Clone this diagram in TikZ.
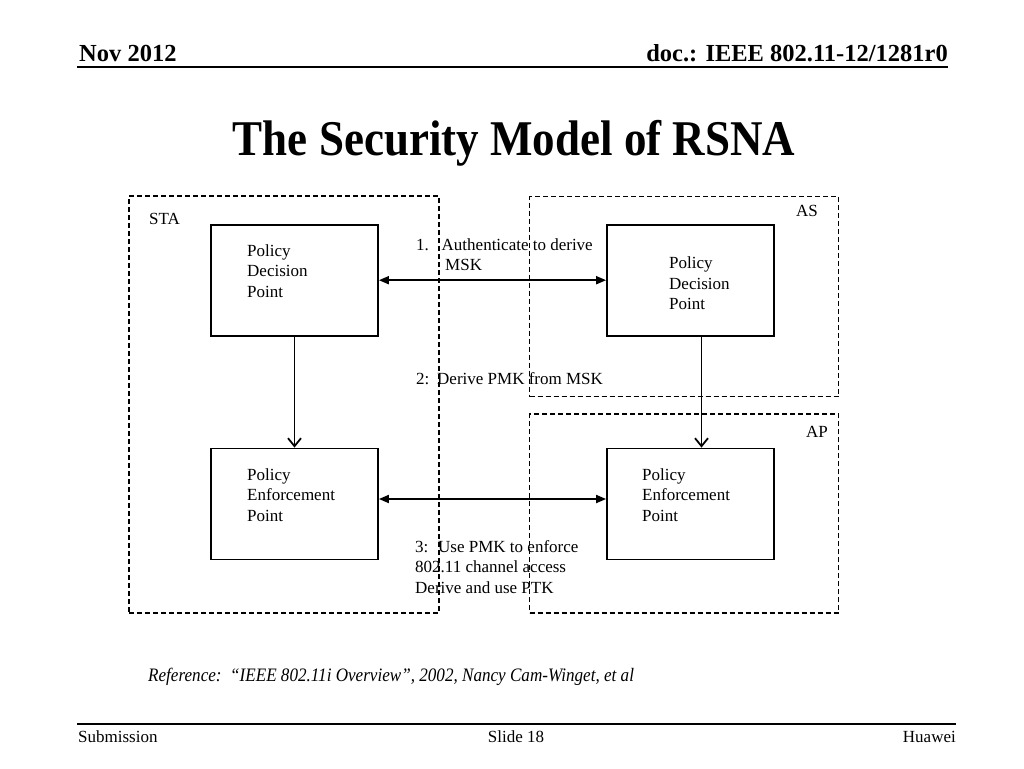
\documentclass[tikz,border=0pt]{standalone}
\usepackage{fontspec}
\setmainfont{Liberation Serif}
\newfontfamily\titlefont[FakeStretch=0.9]{Liberation Serif}
\usetikzlibrary{arrows.meta}

\begin{document}
\begin{tikzpicture}[x=1pt, y=-1pt]
  \tikzstyle{pbox} = [rectangle, draw, minimum width = 167pt, minimum height = 111pt, line width = 1.8pt, inner sep = 0]
  \tikzstyle{zone} = [rectangle, draw, dash pattern = on 5pt off 3pt, line width = 1.8pt, inner sep = 0]
  \tikzstyle{txt} = [font = \fontsize{17}{20.5}\selectfont, inner sep = 0, align = left, anchor = north west]
  \tikzstyle{tag} = [font = \fontsize{17}{20.5}\selectfont, inner sep = 0]
  \tikzstyle{exchange} = [{Triangle[length=10pt, width=8pt]}-{Triangle[length=10pt, width=8pt]}, line width = 1.8pt]
  \tikzstyle{derive} = [-{Straight Barb[length=8pt, width=13pt]}, line width = 1.8pt]

  \useasboundingbox (0,0) rectangle (1024,768);
  \fill[white] (0,0) rectangle (1024,768);

  % header and title
  \node [anchor = base west, inner sep = 0, font = \fontsize{24.5}{28}\selectfont\bfseries] at (79,61) (date) {Nov 2012};
  \node [anchor = base east, inner sep = 0, font = \fontsize{24.5}{28}\selectfont\bfseries] at (948,61) (docid) {doc.: IEEE 802.11-12/1281r0};
  \draw[line width = 2pt] (77,67) -- (948,67);
  \node [anchor = base, inner sep = 0, font = \titlefont\fontsize{50}{56}\selectfont\bfseries] at (514,155) (title) {The Security Model of RSNA};

  % zones
  \node [zone, minimum width = 310pt, minimum height = 417pt] at (284,404.5) (sta) {};
  \node [zone, minimum width = 309pt, minimum height = 200pt] at (684,296.5) (as) {};
  \node [zone, minimum width = 309pt, minimum height = 199pt] at (684,513.5) (ap) {};
  \node [tag, anchor = north west] at (149,213.5) (sta_name) {STA};
  \node [tag, anchor = north east] at (818,205.5) (as_name) {AS};
  \node [tag, anchor = north east] at (828,426.5) (ap_name) {AP};

  % policy points
  \node [pbox] at (294.5,280.2) (sta_pdp) {};
  \node [pbox] at (690.5,280.2) (as_pdp) {};
  \node [pbox] at (294.5,504) (sta_pep) {};
  \node [pbox] at (690.5,504) (ap_pep) {};
  \node [txt] at (247,244.4) (sta_pdp_text) {Policy\\Decision\\Point};
  \node [txt] at (669,257) (as_pdp_text) {Policy\\Decision\\Point};
  \node [txt] at (247,468.4) (sta_pep_text) {Policy\\Enforcement\\Point};
  \node [txt] at (642,468.4) (ap_pep_text) {Policy\\Enforcement\\Point};

  % steps
  \node [txt] at (416,238.4) (step1) {\makebox[25.5pt][l]{1.}Authenticate to derive\\\hspace*{29pt}MSK};
  \node [txt] at (416,372.4) (step2) {\makebox[21pt][l]{2:}Derive PMK from MSK};
  \node [txt] at (415,540) (step3) {\makebox[23pt][l]{3:}Use PMK to enforce\\802.11 channel access\\Derive and use PTK};

  \draw[exchange] (sta_pdp) -- (as_pdp);
  \draw[exchange] ([yshift=5pt]sta_pep.east) -- ([yshift=5pt]ap_pep.west);
  \draw[derive] (sta_pdp) -- (sta_pep);
  \draw[derive] ([xshift=11pt]as_pdp.south) -- ([xshift=11pt]ap_pep.north);

  % reference and footer
  \node [anchor = base west, inner sep = 0, font = \titlefont\fontsize{19}{22}\selectfont\itshape] at (148,681) (source) {Reference:\ \ “IEEE 802.11i Overview”, 2002, Nancy Cam-Winget, et al};
  \draw[line width = 1.5pt] (77,724) -- (956,724);
  \node [anchor = base west, inner sep = 0, font = \fontsize{17}{20}\selectfont] at (78,742) (submission) {Submission};
  \node [anchor = base, inner sep = 0, font = \fontsize{17}{20}\selectfont] at (516,742) (slide) {Slide 18};
  \node [anchor = base east, inner sep = 0, font = \fontsize{17}{20}\selectfont] at (956,742) (company) {Huawei};
\end{tikzpicture}
\end{document}
